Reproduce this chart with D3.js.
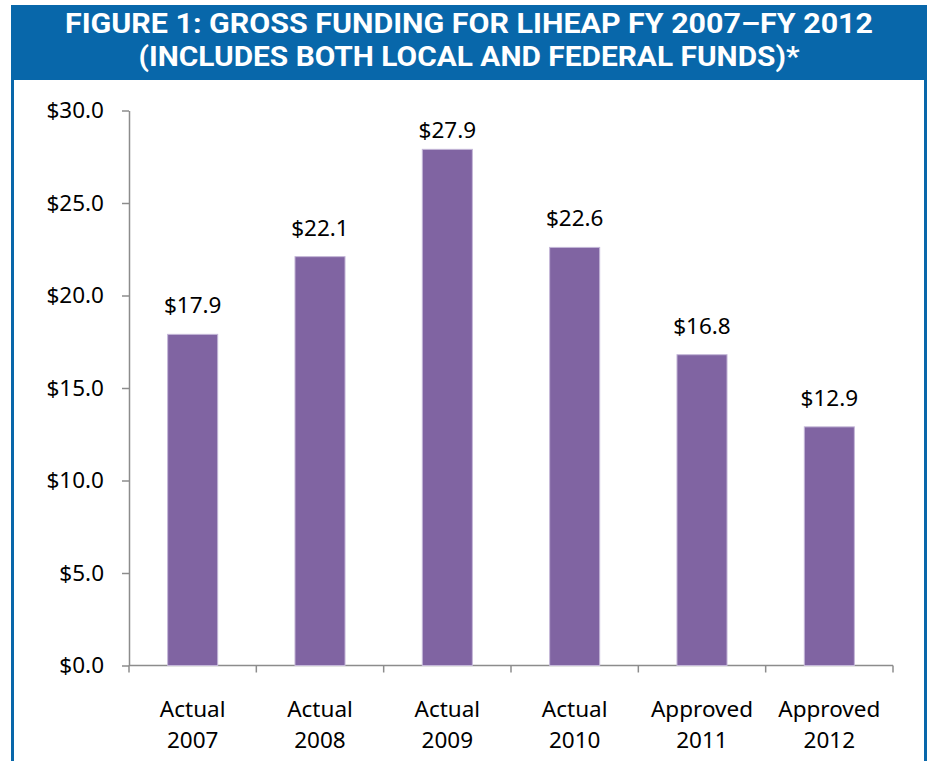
<!DOCTYPE html>
<html>
<head>
<meta charset="utf-8">
<script src="https://cdn.jsdelivr.net/npm/d3@7"></script>
<style>
  body { margin: 0; background: #fff; }
  svg { display: block; }
</style>
</head>
<body>
<div id="chart"></div>
<script>
// Data (millions of dollars)
const categories = ['Actual 2007', 'Actual 2008', 'Actual 2009', 'Actual 2010', 'Approved 2011', 'Approved 2012'];
const funding = [17.9, 22.1, 27.9, 22.6, 16.8, 12.9];
const yTicks = [0, 5, 10, 15, 20, 25, 30];
const titleLines = [
  'FIGURE 1: GROSS FUNDING FOR LIHEAP FY 2007\u2013FY 2012',
  '(INCLUDES BOTH LOCAL AND FEDERAL FUNDS)*'
];

const width = 927, height = 761;
const blue = '#0867aa';
const axisColor = '#8c8c8c';
const font = '"Noto Sans", "Open Sans", sans-serif';

const svg = d3.select('#chart')
  .append('svg')
  .attr('width', width)
  .attr('height', height);

// Frame + banner
svg.append('rect')
  .attr('x', 11).attr('y', 5)
  .attr('width', 916).attr('height', 75)
  .attr('fill', blue);
svg.append('line')
  .attr('x1', 12.5).attr('x2', 12.5).attr('y1', 80).attr('y2', height)
  .attr('stroke', blue).attr('stroke-width', 3);
svg.append('line')
  .attr('x1', 925.5).attr('x2', 925.5).attr('y1', 80).attr('y2', height)
  .attr('stroke', blue).attr('stroke-width', 3);

// Title, squeezed to the condensed look of the original
const titleLen = [808, 661];
svg.selectAll('text.title')
  .data(titleLines)
  .join('text')
  .attr('class', 'title')
  .attr('x', 469)
  .attr('y', (d, i) => 33 + i * 33)
  .attr('text-anchor', 'middle')
  .attr('textLength', (d, i) => titleLen[i])
  .attr('lengthAdjust', 'spacingAndGlyphs')
  .style('font-family', 'Roboto, sans-serif')
  .style('font-weight', 'bold')
  .style('font-size', '28px')
  .style('fill', '#fff')
  .text(d => d);

// Scales
const plot = { left: 129, right: 893, top: 110.5, bottom: 665.5 };
const x = d3.scaleBand()
  .domain(categories)
  .range([plot.left, plot.right])
  .paddingInner(0.607)
  .paddingOuter(0.3035);
const y = d3.scaleLinear()
  .domain([0, 30])
  .range([plot.bottom, plot.top]);

// Y axis
const yAxis = svg.append('g')
  .attr('transform', `translate(${plot.left},0)`)
  .call(d3.axisLeft(y)
    .tickValues(yTicks)
    .tickSize(7)
    .tickSizeOuter(0)
    .tickPadding(18)
    .tickFormat(d => '$' + d.toFixed(1)));
yAxis.select('.domain').attr('stroke', axisColor).attr('stroke-width', 1.5);
yAxis.selectAll('.tick line').attr('stroke', axisColor).attr('stroke-width', 1.5);
yAxis.selectAll('.tick text')
  .style('font-family', font)
  .style('font-size', '22.5px')
  .attr('fill', '#000');

// X axis line and category boundary ticks
svg.append('line')
  .attr('x1', plot.left).attr('x2', plot.right)
  .attr('y1', plot.bottom).attr('y2', plot.bottom)
  .attr('stroke', axisColor).attr('stroke-width', 1.5);
const step = x.step();
const bounds = categories.map(c => x(c) - (step - x.bandwidth()) / 2).concat([plot.right]);
svg.selectAll('line.xtick')
  .data(bounds)
  .join('line')
  .attr('class', 'xtick')
  .attr('x1', d => d).attr('x2', d => d)
  .attr('y1', plot.bottom).attr('y2', plot.bottom + 7)
  .attr('stroke', axisColor).attr('stroke-width', 1.5);

// Category labels (two lines)
const catLabels = svg.selectAll('text.cat')
  .data(categories)
  .join('text')
  .attr('class', 'cat')
  .attr('text-anchor', 'middle')
  .style('font-family', font)
  .style('font-size', '22.5px')
  .style('fill', '#000');
catLabels.selectAll('tspan')
  .data(d => d.split(' ').map(t => ({ t, c: d })))
  .join('tspan')
  .attr('x', d => x(d.c) + x.bandwidth() / 2)
  .attr('y', (d, i) => 717 + i * 31)
  .text(d => d.t);

// Bars
svg.selectAll('rect.bar')
  .data(funding)
  .join('rect')
  .attr('class', 'bar')
  .attr('x', (d, i) => x(categories[i]))
  .attr('y', d => y(d))
  .attr('width', x.bandwidth())
  .attr('height', d => y(0) - y(d))
  .attr('fill', '#8064a2')
  .attr('stroke', '#c4b7d8')
  .attr('stroke-width', 1);

// Value labels (kept inside plot area like the original)
svg.selectAll('text.val')
  .data(funding)
  .join('text')
  .attr('class', 'val')
  .attr('x', (d, i) => x(categories[i]) + x.bandwidth() / 2)
  .attr('y', d => Math.max(y(d) - 21, 138))
  .attr('text-anchor', 'middle')
  .style('font-family', font)
  .style('font-size', '22.5px')
  .style('fill', '#000')
  .text(d => '$' + d.toFixed(1));
</script>
</body>
</html>
